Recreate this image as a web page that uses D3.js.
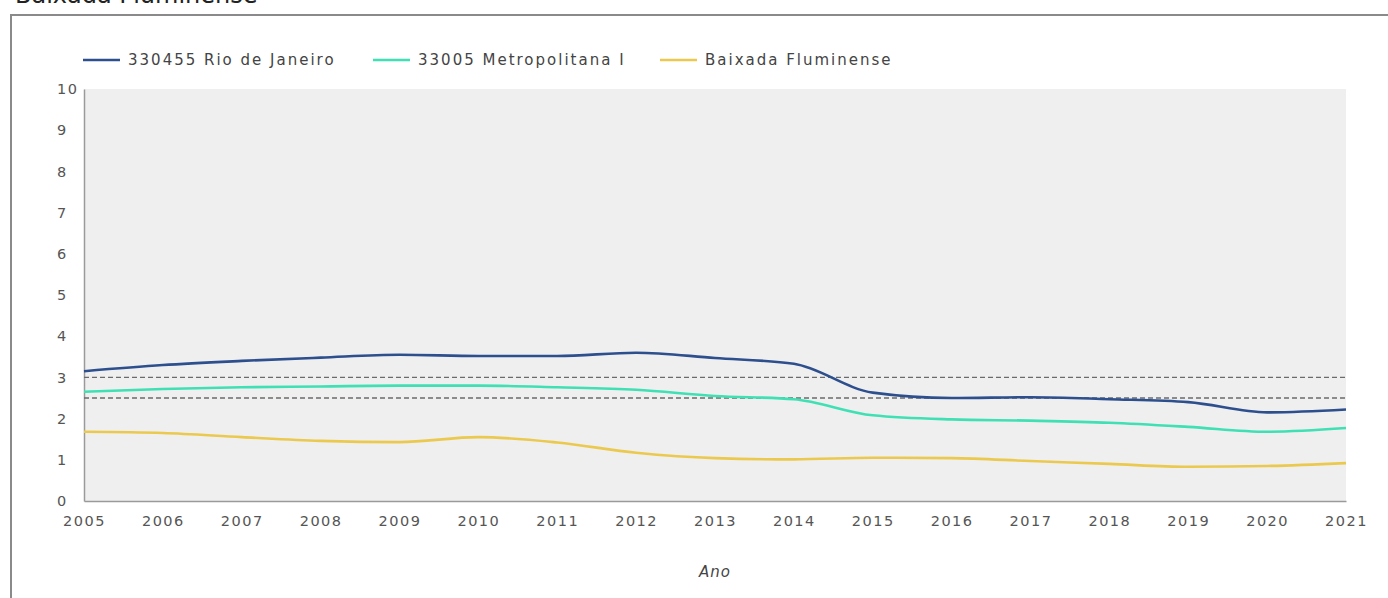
<!DOCTYPE html>
<html><head><meta charset="utf-8">
<script src="https://cdn.jsdelivr.net/npm/d3@7"></script>
<style>
html,body{margin:0;padding:0;background:#fff;}
svg{display:block;}
text{font-family:"DejaVu Sans",sans-serif;}
</style></head>
<body>
<svg id="chart" width="1388" height="598"></svg>
<script>
const title = "Baixada Fluminense";
const years = [2005,2006,2007,2008,2009,2010,2011,2012,2013,2014,2015,2016,2017,2018,2019,2020,2021];
const seriesNames = ["330455 Rio de Janeiro","33005 Metropolitana I","Baixada Fluminense"];
const rioValues = [3.15,3.3,3.4,3.48,3.55,3.52,3.52,3.6,3.47,3.33,2.63,2.5,2.52,2.47,2.4,2.15,2.22];
const metroValues = [2.65,2.72,2.76,2.78,2.8,2.8,2.76,2.7,2.55,2.47,2.08,1.98,1.95,1.9,1.8,1.68,1.77];
const baixadaValues = [1.68,1.65,1.55,1.46,1.43,1.55,1.42,1.17,1.04,1.01,1.05,1.04,0.97,0.9,0.83,0.85,0.92];
const refLines = [3, 2.5];
const yTicks = [0,1,2,3,4,5,6,7,8,9,10];
const colors = ["#2d4f8e","#3fe0b4","#ebc94e"];
const xTitle = "Ano";

const svg = d3.select("#chart");
const W = 1388, H = 598;
const m = {left:84, right:42, top:89, bottom:97};

// outer frame
svg.append("path").attr("d","M11,598 L11,15 L1388,15")
  .attr("fill","none").attr("stroke","#8a8a8a").attr("stroke-width",2);
svg.append("text").attr("x",15).attr("y",3).attr("font-size",24).attr("fill","#222").text(title);

const x = d3.scaleLinear().domain([2005,2021]).range([m.left, W - m.right]);
const y = d3.scaleLinear().domain([0,10]).range([H - m.bottom, m.top]);

svg.append("rect").attr("x",x(2005)).attr("y",y(10)).attr("width",x(2021)-x(2005)).attr("height",y(0)-y(10)).attr("fill","#efefef");

// axes
const xAxis = d3.axisBottom(x).tickValues(years).tickFormat(d3.format("d")).tickSize(0).tickPadding(15);
const gx = svg.append("g").attr("transform",`translate(0,${y(0)})`).call(xAxis);
gx.select(".domain").attr("stroke","#9a9a9a").attr("stroke-width",1.5);
gx.selectAll("text").attr("font-size",14.5).attr("fill","#555").attr("letter-spacing","1.5px").attr("font-family","DejaVu Sans");

const yAxis = d3.axisLeft(y).tickValues(yTicks).tickSize(0).tickPadding(0);
const gy = svg.append("g").attr("transform",`translate(${x(2005)},0)`).call(yAxis);
gy.select(".domain").attr("stroke","#9a9a9a").attr("stroke-width",1.5);
gy.selectAll("text").attr("font-size",14.5).attr("fill","#555").attr("letter-spacing","1.5px").attr("text-anchor","start").attr("x",57 - x(2005)).attr("font-family","DejaVu Sans");

// reference lines
svg.selectAll(".ref").data(refLines).enter().append("line")
  .attr("x1",x(2005)).attr("x2",x(2021)).attr("y1",d=>y(d)).attr("y2",d=>y(d))
  .attr("stroke","#6b6b6b").attr("stroke-width",1.3).attr("stroke-dasharray","5,3");

const allSeries = [rioValues, metroValues, baixadaValues];
const line = d3.line().x((d,i)=>x(years[i])).y(d=>y(d)).curve(d3.curveMonotoneX);
allSeries.forEach((vals,k)=>{
  svg.append("path").datum(vals).attr("d",line).attr("fill","none")
    .attr("stroke",colors[k]).attr("stroke-width",2.6);
});

// legend
const legendX = [83, 373, 660];
seriesNames.forEach((n,k)=>{
  const g = svg.append("g").attr("transform",`translate(${legendX[k]},60)`);
  g.append("line").attr("x1",0).attr("x2",37).attr("y1",0).attr("y2",0).attr("stroke",colors[k]).attr("stroke-width",2.6);
  g.append("text").attr("x",45).attr("y",5).attr("font-size",15).attr("fill","#444").attr("letter-spacing","2px").text(n);
});

svg.append("text").attr("x",(x(2005)+x(2021))/2).attr("y",577).attr("text-anchor","middle")
  .attr("font-size",15).attr("font-style","italic").attr("letter-spacing","1px").attr("fill","#444").text(xTitle);
</script>
</body></html>
